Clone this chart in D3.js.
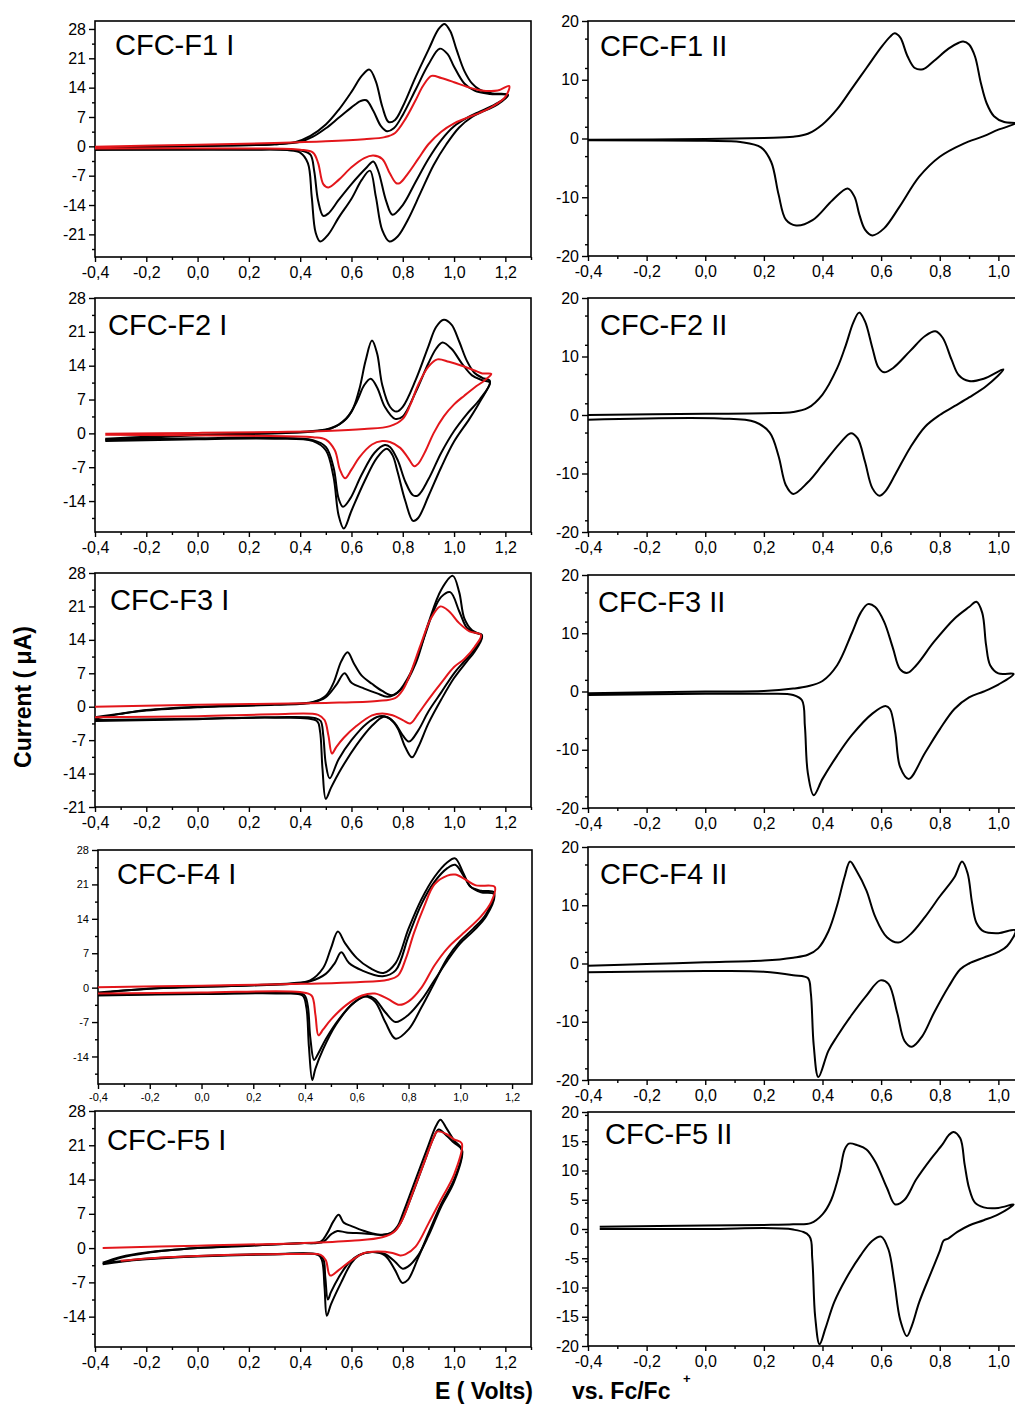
<!DOCTYPE html>
<html>
<head>
<meta charset="utf-8">
<script src="https://cdn.jsdelivr.net/npm/d3@7"></script>
<style>
  body { margin: 0; background: #fff; }
  svg { display: block; }
  text { font-family: "Liberation Sans", Arial, sans-serif; fill: #000; }
</style>
</head>
<body>
<svg id="chart" width="1015" height="1407"></svg>
<script>
// tick labels
const leftXTicks = [-0.4, -0.2, 0.0, 0.2, 0.4, 0.6, 0.8, 1.0, 1.2];
const rightXTicks = [-0.4, -0.2, 0.0, 0.2, 0.4, 0.6, 0.8, 1.0];
const leftYTicksA = [28, 21, 14, 7, 0, -7, -14, -21];
const leftYTicksB = [28, 21, 14, 7, 0, -7, -14];
const rightYTicks = [20, 10, 0, -10, -20];
const rightYTicks5 = [20, 15, 10, 5, 0, -5, -10, -15, -20];

// CV data, [E (V), I (uA)], forward scan then reverse scan
const f1I_outer = [[-0.4,-0.2],[-0.2,-0.1],[0.0,0.1],[0.2,0.3],[0.3,0.5],[0.38,1.0],[0.44,2.5],[0.5,5.2],[0.55,8.7],[0.6,13],[0.64,16.8],[0.67,18.3],[0.695,15.5],[0.72,9.5],[0.745,5.8],[0.77,6.3],[0.8,9.5],[0.85,16.5],[0.9,23],[0.94,28],[0.963,29.2],[0.985,27.5],[1.01,23],[1.04,18],[1.07,15],[1.1,13.5],[1.15,12.6],[1.21,12.3],
  [1.17,10],[1.12,8.5],[1.07,7],[1.02,4.5],[0.97,0.5],[0.92,-4.5],[0.87,-11],[0.82,-17.5],[0.78,-21.5],[0.748,-22.7],[0.72,-20],[0.695,-12],[0.672,-5.8],[0.64,-8],[0.6,-12.5],[0.55,-17],[0.51,-21],[0.478,-22.7],[0.46,-20.5],[0.445,-12],[0.43,-4],[0.4,-1.5],[0.35,-0.9],[0.2,-0.8],[0.0,-0.8],[-0.4,-0.8]];
const f1I_inner = [[-0.4,-0.3],[0.0,0.1],[0.3,0.5],[0.4,1.1],[0.45,2.3],[0.5,4.3],[0.55,6.8],[0.6,9.3],[0.635,10.8],[0.658,11],[0.685,8.5],[0.715,4.8],[0.738,3.6],[0.765,4.3],[0.8,7.5],[0.85,13.5],[0.9,19.5],[0.944,23.3],[0.975,22],[1.0,19],[1.04,15],[1.08,13.3],[1.14,12.5],[1.21,12.2],
  [1.16,10],[1.1,8.3],[1.05,6.8],[1.0,4.8],[0.95,1.5],[0.9,-3],[0.85,-8.5],[0.8,-14],[0.76,-16.3],[0.735,-13],[0.705,-6],[0.685,-3.6],[0.66,-5],[0.6,-9],[0.55,-12.8],[0.51,-16],[0.49,-16.6],[0.47,-13],[0.455,-6],[0.44,-2],[0.41,-1.1],[0.2,-0.7],[-0.4,-0.8]];
const f1I_red = [[-0.4,-0.1],[0.0,0.4],[0.3,0.8],[0.5,1.2],[0.65,1.7],[0.73,2.2],[0.77,3.2],[0.81,6.5],[0.85,11],[0.88,14.5],[0.912,16.8],[0.95,16.3],[1.0,15.3],[1.05,14.2],[1.1,13.4],[1.17,13.3],[1.215,14.4],
  [1.2,11.8],[1.15,9.5],[1.1,8],[1.05,6.8],[1.0,5.5],[0.95,3.5],[0.9,0.5],[0.86,-3],[0.82,-6.5],[0.79,-8.7],[0.775,-8.8],[0.75,-6.5],[0.72,-3],[0.685,-2.2],[0.65,-2.8],[0.6,-5],[0.55,-8],[0.51,-9.8],[0.49,-9],[0.47,-4],[0.45,-1.5],[0.4,-0.8],[0.2,-0.5],[-0.4,-0.5]];
const f1II = [[-0.4,-0.2],[0.0,-0.1],[0.2,0.1],[0.3,0.3],[0.35,0.8],[0.4,2.4],[0.45,5],[0.5,8.5],[0.55,12],[0.6,15.5],[0.63,17.3],[0.646,17.9],[0.665,17.2],[0.69,14],[0.715,12],[0.743,11.8],[0.78,13.2],[0.83,15.3],[0.865,16.3],[0.88,16.5],[0.9,16],[0.92,14],[0.94,9.5],[0.96,6],[0.985,3.8],[1.02,2.8],[1.06,2.6],
  [1.0,1.5],[0.95,0.4],[0.88,-0.9],[0.8,-3.1],[0.73,-6.5],[0.663,-11.6],[0.61,-15.3],[0.57,-16.5],[0.545,-15.5],[0.526,-13],[0.509,-9.9],[0.486,-8.5],[0.434,-10.5],[0.366,-13.9],[0.31,-14.8],[0.275,-13.8],[0.25,-9.5],[0.225,-4],[0.19,-1.5],[0.12,-0.6],[0.0,-0.4],[-0.4,-0.3]];

const f2I_outer = [[-0.36,-1.3],[-0.2,-0.9],[0.0,-0.4],[0.2,-0.1],[0.4,0.3],[0.5,0.8],[0.55,1.8],[0.6,4.5],[0.63,9],[0.655,15],[0.68,19.2],[0.7,16.5],[0.72,10],[0.75,5.5],[0.775,4.5],[0.8,5.5],[0.85,11],[0.9,18],[0.93,22],[0.96,23.5],[0.99,22.5],[1.02,19],[1.05,15],[1.08,12.5],[1.11,11.5],[1.14,10.8],
  [1.1,6.5],[1.06,3],[1.0,-1.7],[0.95,-7],[0.9,-13],[0.86,-17.5],[0.84,-18.1],[0.81,-14],[0.78,-8],[0.76,-4.5],[0.738,-3.2],[0.7,-5],[0.65,-10],[0.6,-16],[0.57,-19.7],[0.55,-17],[0.53,-9],[0.5,-3.5],[0.45,-1.6],[0.3,-1.1],[0.0,-1.2],[-0.36,-1.6]];
const f2I_inner = [[-0.36,-1.1],[0.0,-0.3],[0.3,0.0],[0.45,0.4],[0.52,1],[0.58,3],[0.62,6.5],[0.65,10],[0.675,11.3],[0.7,9.5],[0.73,5.5],[0.77,3],[0.8,3.5],[0.85,8.5],[0.9,14.5],[0.93,17.5],[0.955,18.8],[0.99,17.5],[1.03,14.5],[1.07,12],[1.11,11],[1.14,10.5],
  [1.1,7],[1.05,4],[1.0,0.5],[0.95,-4],[0.9,-9.5],[0.86,-12.8],[0.84,-12.8],[0.81,-10],[0.78,-5.5],[0.75,-2.8],[0.73,-2.4],[0.69,-4],[0.64,-8.5],[0.595,-13.5],[0.567,-15.2],[0.55,-13.5],[0.53,-7],[0.5,-2.8],[0.45,-1.4],[0.3,-0.9],[0.0,-1.0],[-0.36,-1.3]];
const f2I_red = [[-0.36,-0.1],[0.0,0.1],[0.3,0.3],[0.5,0.5],[0.65,0.9],[0.75,1.5],[0.8,3],[0.83,6],[0.86,10],[0.9,13.8],[0.935,15.3],[0.98,14.8],[1.03,14],[1.08,13],[1.11,12.4],[1.145,12.3],
  [1.12,11],[1.08,9.5],[1.04,7.8],[1.0,6],[0.96,3.5],[0.92,0],[0.89,-3.5],[0.86,-6.3],[0.845,-6.8],[0.82,-5],[0.79,-3],[0.75,-1.8],[0.72,-1.6],[0.68,-2.3],[0.63,-5],[0.6,-7.5],[0.575,-9.3],[0.555,-7.5],[0.535,-3.5],[0.5,-1.3],[0.45,-0.8],[0.2,-0.5],[-0.36,-0.3]];
const f2II = [[-0.4,0.0],[0.0,0.2],[0.2,0.3],[0.3,0.5],[0.35,1.2],[0.4,3.5],[0.45,8],[0.48,12],[0.505,15.8],[0.525,17.5],[0.545,16],[0.57,11.5],[0.59,8.2],[0.61,7.3],[0.64,8],[0.7,11],[0.75,13.5],[0.785,14.3],[0.81,13.2],[0.84,9.5],[0.865,6.8],[0.9,5.8],[0.95,6.2],[1.017,7.8],
  [0.96,5],[0.9,3],[0.85,1.5],[0.8,0],[0.75,-2],[0.7,-5.5],[0.65,-10],[0.615,-13],[0.594,-13.8],[0.57,-12.5],[0.545,-8],[0.52,-4],[0.497,-3.1],[0.46,-4.8],[0.4,-8.5],[0.35,-11.5],[0.3,-13.5],[0.275,-12],[0.25,-7],[0.22,-3],[0.17,-1.2],[0.05,-0.6],[-0.4,-0.8]];

const f3I_outer = [[-0.4,-2.5],[-0.3,-1.5],[-0.2,-0.7],[0.0,0.0],[0.3,0.5],[0.45,1.0],[0.5,2.3],[0.53,5],[0.56,9.5],[0.585,11.4],[0.61,9],[0.64,6.5],[0.68,4.8],[0.72,3.3],[0.758,2.4],[0.8,4],[0.85,9],[0.9,17.5],[0.95,24.5],[0.995,27.4],[1.02,24],[1.04,18.5],[1.07,16],[1.109,14.8],
  [1.08,11.5],[1.05,9.5],[1.0,6],[0.95,1.5],[0.9,-3.5],[0.86,-8.5],[0.836,-10.6],[0.81,-8.5],[0.78,-4.5],[0.75,-2.5],[0.725,-2.1],[0.68,-4],[0.62,-8],[0.56,-13],[0.52,-17],[0.5,-19.3],[0.487,-13],[0.477,-5],[0.465,-3],[0.3,-2.3],[0.0,-2.6],[-0.4,-3.0]];
const f3I_inner = [[-0.4,-2.2],[-0.2,-0.8],[0.0,-0.1],[0.3,0.4],[0.45,0.9],[0.5,2],[0.54,4.5],[0.573,7],[0.6,5],[0.65,3.8],[0.7,2.8],[0.74,2.1],[0.78,3],[0.83,7],[0.88,14],[0.92,20],[0.95,23],[0.985,24],[1.02,20],[1.05,16.5],[1.08,15.5],[1.109,15],
  [1.08,12],[1.04,9.5],[1.0,7],[0.95,3],[0.9,-1],[0.86,-5],[0.825,-7.3],[0.8,-6],[0.77,-3.5],[0.74,-2.2],[0.71,-2],[0.66,-3.5],[0.6,-7],[0.55,-11],[0.515,-15],[0.5,-12],[0.49,-6],[0.48,-3],[0.46,-2.4],[0.3,-2.2],[0.0,-2.5],[-0.4,-2.8]];
const f3I_red = [[-0.4,0.0],[0.0,0.4],[0.5,0.8],[0.7,1.2],[0.77,1.8],[0.8,3.5],[0.83,7],[0.87,13],[0.91,18.5],[0.946,21],[0.98,20],[1.02,17.5],[1.06,15.8],[1.105,15],
  [1.08,12.5],[1.04,10],[1.0,8.3],[0.95,5],[0.9,1.5],[0.86,-1.5],[0.829,-3.5],[0.8,-2.8],[0.76,-1.8],[0.72,-1.4],[0.68,-1.8],[0.62,-4],[0.57,-6.5],[0.54,-8.5],[0.524,-9.8],[0.51,-6],[0.495,-2.8],[0.47,-1.7],[0.3,-1.6],[0.0,-2.0],[-0.4,-2.2]];
const f3II = [[-0.4,-0.3],[0.0,0.0],[0.2,0.1],[0.3,0.5],[0.35,0.9],[0.4,1.8],[0.45,4.5],[0.5,10],[0.53,13.5],[0.555,15],[0.58,14.5],[0.61,12],[0.64,7.5],[0.665,3.8],[0.69,3.2],[0.72,4.5],[0.78,8.5],[0.85,12.5],[0.9,14.5],[0.925,15.4],[0.945,13.5],[0.958,8],[0.972,4.5],[1.0,3.1],[1.052,3.0],
  [1.0,1.2],[0.95,0],[0.9,-1],[0.85,-3],[0.8,-6.5],[0.75,-10.5],[0.694,-15],[0.665,-13],[0.648,-7],[0.63,-3],[0.615,-2.5],[0.57,-3.8],[0.5,-7.5],[0.45,-11],[0.4,-15],[0.37,-17.8],[0.35,-14],[0.34,-6],[0.33,-1.5],[0.3,-0.6],[0.2,-0.4],[0.0,-0.4],[-0.4,-0.6]];

const f4I_outer = [[-0.4,-1.3],[-0.3,-0.6],[-0.1,0.1],[0.2,0.5],[0.35,0.9],[0.42,1.5],[0.47,4],[0.5,8],[0.527,11.4],[0.555,9],[0.6,6],[0.65,4],[0.703,3],[0.75,5],[0.8,12],[0.85,18],[0.9,22.5],[0.95,25.5],[0.98,26.3],[1.01,23.5],[1.04,20.5],[1.08,19.7],[1.13,19.4],
  [1.1,15],[1.05,12],[1.0,9.5],[0.95,6],[0.9,1],[0.85,-4],[0.8,-8.5],[0.75,-10.4],[0.71,-7],[0.67,-2.8],[0.63,-1.8],[0.58,-3.5],[0.52,-7.5],[0.47,-12.5],[0.44,-16.5],[0.428,-18.8],[0.415,-12],[0.405,-4],[0.39,-1.6],[0.3,-1.2],[0.0,-1.3],[-0.4,-1.6]];
const f4I_inner = [[-0.4,-1.0],[-0.2,-0.2],[0.1,0.3],[0.35,0.8],[0.42,1.3],[0.48,2.8],[0.515,5],[0.54,7.2],[0.57,5],[0.62,3.5],[0.7,2.3],[0.75,3.5],[0.8,10.5],[0.85,17],[0.9,21.5],[0.95,24.3],[0.98,25],[1.01,23],[1.04,20.5],[1.08,19.4],[1.13,19],
  [1.1,14.5],[1.05,11.5],[1.0,9],[0.95,5.5],[0.9,1.5],[0.85,-2.5],[0.8,-5.5],[0.75,-7],[0.71,-5],[0.67,-2.3],[0.64,-1.7],[0.59,-3],[0.53,-6.5],[0.48,-10.5],[0.45,-13.5],[0.435,-14.7],[0.42,-10],[0.41,-3.5],[0.395,-1.4],[0.3,-1.1],[0.0,-1.2],[-0.4,-1.4]];
const f4I_red = [[-0.4,0.1],[0.0,0.4],[0.4,0.8],[0.6,1.1],[0.72,1.6],[0.76,2.5],[0.79,6],[0.82,11],[0.86,16.5],[0.9,21],[0.95,22.8],[0.98,23],[1.02,22],[1.06,20.8],[1.133,20.5],
  [1.12,17.5],[1.08,14.5],[1.0,10.5],[0.95,8],[0.9,4.5],[0.85,0],[0.8,-2.8],[0.765,-3.5],[0.72,-2.3],[0.67,-1.2],[0.62,-1.6],[0.56,-3.5],[0.5,-6.5],[0.47,-8.5],[0.452,-9.7],[0.44,-5.5],[0.425,-1.6],[0.38,-0.9],[0.0,-1.0],[-0.4,-1.2]];
const f4II = [[-0.4,-0.4],[-0.2,-0.1],[0.0,0.2],[0.2,0.5],[0.3,1.0],[0.35,1.5],[0.385,2.6],[0.42,5.5],[0.45,10],[0.475,14.8],[0.494,17.5],[0.515,16],[0.55,12.5],[0.58,8],[0.62,4.5],[0.659,3.6],[0.7,5],[0.75,8],[0.8,11.5],[0.85,14.8],[0.876,17.5],[0.895,15.5],[0.91,10.5],[0.925,7],[0.95,5.5],[1.0,5.2],[1.058,5.7],
  [1.03,3],[1.0,2],[0.95,1],[0.9,0],[0.87,-1],[0.83,-4],[0.78,-8.5],[0.74,-12.5],[0.705,-14.3],[0.68,-13.3],[0.655,-8.5],[0.625,-3.5],[0.597,-2.9],[0.55,-5.5],[0.5,-8.8],[0.45,-12.5],[0.42,-15],[0.386,-19.5],[0.37,-14],[0.36,-5],[0.35,-2.5],[0.3,-2],[0.2,-1.4],[0.0,-1.3],[-0.4,-1.5]];

const f5I_outer = [[-0.37,-3.3],[-0.3,-2.0],[-0.2,-1.0],[0.0,0.0],[0.2,0.5],[0.4,1.0],[0.48,1.3],[0.505,3],[0.53,5.5],[0.55,6.8],[0.57,5.2],[0.6,4.5],[0.65,3.5],[0.7,2.8],[0.75,3],[0.78,4.5],[0.8,7],[0.85,14],[0.9,21],[0.93,25],[0.947,26.2],[0.97,24.5],[1.0,22],[1.031,20],
  [1.0,14],[0.95,9],[0.9,3],[0.86,-2],[0.82,-6.5],[0.798,-7.1],[0.77,-4.5],[0.73,-1.5],[0.68,-0.8],[0.63,-1.5],[0.6,-3],[0.56,-7],[0.52,-11.5],[0.504,-13.8],[0.495,-8],[0.485,-2.5],[0.47,-1.4],[0.3,-1.3],[0.0,-1.7],[-0.2,-2.3],[-0.3,-2.8],[-0.37,-3.3]];
const f5I_inner = [[-0.37,-3.0],[-0.3,-1.8],[-0.2,-0.9],[0.0,0.0],[0.2,0.5],[0.4,1.0],[0.49,1.3],[0.52,2.8],[0.545,3.5],[0.58,3.2],[0.65,3],[0.72,2.7],[0.76,3.2],[0.79,5],[0.83,10],[0.88,17],[0.92,22.5],[0.94,24.2],[0.97,23],[1.0,21.5],[1.031,20],
  [1.0,13.5],[0.95,8.5],[0.9,2.5],[0.86,-1.5],[0.82,-3.8],[0.8,-4.2],[0.77,-2.8],[0.73,-1.2],[0.68,-0.8],[0.63,-1.4],[0.59,-3],[0.55,-6],[0.52,-9],[0.508,-10.5],[0.498,-6],[0.49,-2.2],[0.47,-1.3],[0.3,-1.2],[0.0,-1.6],[-0.2,-2.2],[-0.3,-2.7],[-0.37,-3.1]];
const f5I_red = [[-0.37,0.0],[0.0,0.5],[0.4,1.0],[0.6,1.5],[0.72,2.2],[0.77,3.5],[0.8,6],[0.84,11.5],[0.88,17],[0.92,22.5],[0.934,23.8],[0.97,23.3],[1.0,22.2],[1.03,21.4],
  [1.0,15],[0.95,10],[0.9,5],[0.85,0.3],[0.81,-1.3],[0.79,-1.5],[0.76,-1],[0.7,-0.7],[0.65,-1],[0.6,-2.5],[0.55,-4.5],[0.517,-5.6],[0.5,-2.5],[0.48,-1.4],[0.4,-1.2],[0.2,-1.3],[0.0,-1.6],[-0.2,-2.1],[-0.3,-2.6]];
const f5II = [[-0.36,0.4],[0.0,0.6],[0.2,0.7],[0.3,0.8],[0.36,1.0],[0.4,2.5],[0.43,5],[0.46,10],[0.475,13.5],[0.49,14.6],[0.52,14.3],[0.55,13.6],[0.58,11.5],[0.62,7],[0.648,4.2],[0.68,5],[0.72,8.5],[0.77,12],[0.81,14.5],[0.83,16],[0.847,16.6],[0.87,15.5],[0.885,11],[0.9,7],[0.92,4.5],[0.95,3.7],[1.0,3.6],[1.052,4.2],
  [1.0,2.5],[0.95,1.5],[0.9,0.6],[0.86,-0.5],[0.83,-1.6],[0.813,-2],[0.8,-3.8],[0.77,-7.5],[0.73,-12.5],[0.705,-16.5],[0.688,-18.3],[0.665,-15.5],[0.645,-9],[0.625,-3.5],[0.6,-1.3],[0.57,-2],[0.53,-4.5],[0.48,-8.5],[0.44,-12.5],[0.41,-17],[0.39,-19.7],[0.375,-15],[0.365,-5],[0.355,-1.2],[0.3,-0.1],[0.0,0.0],[-0.36,0.0]];

const RED = "#e3161b";

// panel layout
const panels = [
  {title: "CFC-F1 I", x0: 95, x1: 531, xd: [-0.4, 1.3], y0: 21, y1: 257, yd: [-26.4, 29.9], yt: leftYTicksA, minor: 3.5, xt: leftXTicks, tx: 115, ty: 55, black: [f1I_outer, f1I_inner], red: [f1I_red]},
  {title: "CFC-F1 II", x0: 588, x1: 1057, xd: [-0.4, 1.2], y0: 21, y1: 256, yd: [-20, 20], yt: rightYTicks, minor: 5, xt: rightXTicks, tx: 600, ty: 56, black: [f1II], red: []},
  {title: "CFC-F2 I", x0: 95, x1: 531, xd: [-0.4, 1.3], y0: 298, y1: 532, yd: [-20.4, 28], yt: leftYTicksB, minor: 3.5, xt: leftXTicks, tx: 108, ty: 335, black: [f2I_outer, f2I_inner], red: [f2I_red]},
  {title: "CFC-F2 II", x0: 588, x1: 1057, xd: [-0.4, 1.2], y0: 298, y1: 532, yd: [-20, 20], yt: rightYTicks, minor: 5, xt: rightXTicks, tx: 600, ty: 335, black: [f2II], red: []},
  {title: "CFC-F3 I", x0: 95, x1: 531, xd: [-0.4, 1.3], y0: 573, y1: 807, yd: [-21, 28], yt: leftYTicksA, minor: 3.5, xt: leftXTicks, tx: 110, ty: 610, black: [f3I_outer, f3I_inner], red: [f3I_red]},
  {title: "CFC-F3 II", x0: 588, x1: 1057, xd: [-0.4, 1.2], y0: 575, y1: 808, yd: [-20, 20], yt: rightYTicks, minor: 5, xt: rightXTicks, tx: 598, ty: 612, black: [f3II], red: []},
  {title: "CFC-F4 I", x0: 98, x1: 532, xd: [-0.4, 1.277], y0: 850, y1: 1084, yd: [-19.6, 28], yt: leftYTicksB, minor: 3.5, xt: leftXTicks, tx: 117, ty: 884, small: true, black: [f4I_outer, f4I_inner], red: [f4I_red]},
  {title: "CFC-F4 II", x0: 588, x1: 1057, xd: [-0.4, 1.2], y0: 847, y1: 1080, yd: [-20, 20], yt: rightYTicks, minor: 5, xt: rightXTicks, tx: 600, ty: 884, black: [f4II], red: []},
  {title: "CFC-F5 I", x0: 95, x1: 531, xd: [-0.4, 1.3], y0: 1111, y1: 1347, yd: [-20.2, 28], yt: leftYTicksB, minor: 3.5, xt: leftXTicks, tx: 107, ty: 1150, black: [f5I_outer, f5I_inner], red: [f5I_red]},
  {title: "CFC-F5 II", x0: 588, x1: 1057, xd: [-0.4, 1.2], y0: 1112, y1: 1346, yd: [-20, 20], yt: rightYTicks5, minor: 2.5, xt: rightXTicks, tx: 605, ty: 1144, black: [f5II], red: []}
];

const svg = d3.select("#chart");
const loc = d3.formatLocale({decimal: ",", thousands: ".", grouping: [3], currency: ["", ""], minus: "-"});
const fmtX = loc.format(".1f");
const fmtY = loc.format("d");

panels.forEach(p => {
  let x = d3.scaleLinear().domain(p.xd).range([p.x0, p.x1]);
  let y = d3.scaleLinear().domain(p.yd).range([p.y1, p.y0]);
  let fs = p.small ? 11 : 16;
  let g = svg.append("g");

  // minor ticks
  let yMinor = d3.range(-28, 30.1, p.minor).filter(v => v >= p.yd[0] && v <= p.yd[1] && !p.yt.includes(v));
  let xMinor = d3.range(-0.3, 1.35, 0.2).map(v => +v.toFixed(1)).filter(v => v <= p.xd[1]);

  let ay0 = g.append("g").attr("transform", `translate(${p.x0},0)`)
    .call(d3.axisLeft(y).tickValues(yMinor).tickSize(3).tickFormat(""));
  let ay1 = g.append("g").attr("transform", `translate(${p.x0},0)`)
    .call(d3.axisLeft(y).tickValues(p.yt).tickSize(6).tickPadding(3).tickFormat(fmtY));
  let ax0 = g.append("g").attr("transform", `translate(0,${p.y1})`)
    .call(d3.axisBottom(x).tickValues(xMinor).tickSize(3).tickFormat(""));
  let ax1 = g.append("g").attr("transform", `translate(0,${p.y1})`)
    .call(d3.axisBottom(x).tickValues(p.xt).tickSize(5).tickPadding(p.small ? 4 : 5).tickFormat(fmtX));

  [ay0, ay1, ax0, ax1].forEach(a => {
    a.select(".domain").remove();
    a.selectAll("line").attr("stroke", "#000").attr("stroke-width", 1.4);
    a.selectAll("text").attr("font-size", fs).attr("font-family", '"Liberation Sans", Arial, sans-serif').attr("fill", "#000");
  });

  // frame
  g.append("rect")
    .attr("x", p.x0).attr("y", p.y0)
    .attr("width", p.x1 - p.x0).attr("height", p.y1 - p.y0)
    .attr("fill", "none").attr("stroke", "#000").attr("stroke-width", 1.6);

  let line = d3.line()
    .x(d => x(d[0]))
    .y(d => y(d[1]))
    .curve(d3.curveCatmullRom.alpha(0.5));

  p.black.forEach(c => {
    g.append("path").attr("d", line(c))
      .attr("fill", "none").attr("stroke", "#000").attr("stroke-width", 2)
      .attr("stroke-linejoin", "round");
  });
  p.red.forEach(c => {
    g.append("path").attr("d", line(c))
      .attr("fill", "none").attr("stroke", RED).attr("stroke-width", 2)
      .attr("stroke-linejoin", "round");
  });

  g.append("text")
    .attr("x", p.tx).attr("y", p.ty)
    .attr("font-size", 29)
    .text(p.title);
});

// axis titles
svg.append("text")
  .attr("transform", "translate(31,697) rotate(-90)")
  .attr("text-anchor", "middle")
  .attr("font-size", 23)
  .attr("font-weight", "bold")
  .text("Current ( μA)");

svg.append("text")
  .attr("x", 435).attr("y", 1399)
  .attr("font-size", 23).attr("font-weight", "bold")
  .text("E ( Volts)");
svg.append("text")
  .attr("x", 572).attr("y", 1399)
  .attr("font-size", 23).attr("font-weight", "bold")
  .text("vs. Fc/Fc");
svg.append("text")
  .attr("x", 683).attr("y", 1383)
  .attr("font-size", 13).attr("font-weight", "bold")
  .text("+");
</script>
</body>
</html>
